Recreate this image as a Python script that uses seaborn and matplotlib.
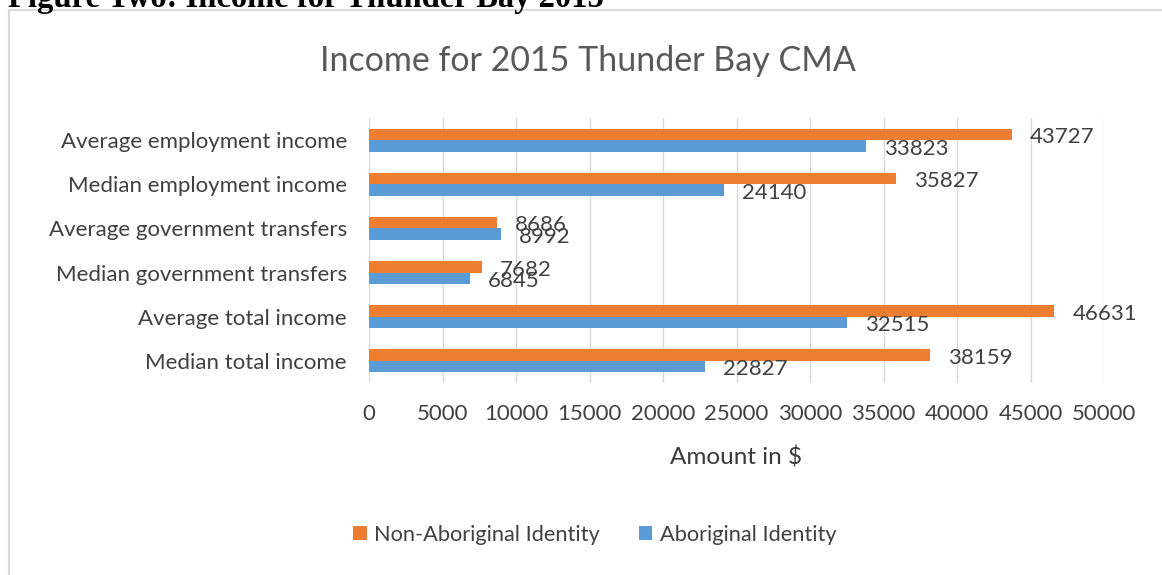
import matplotlib
matplotlib.use("Agg")
import matplotlib.pyplot as plt
import seaborn as sns
import pandas as pd
from matplotlib.patches import Patch

categories = [
    "Average employment income",
    "Median employment income",
    "Average government transfers",
    "Median government transfers",
    "Average total income",
    "Median total income",
]
series_names = ["Non-Aboriginal Identity", "Aboriginal Identity"]
non_aboriginal = [43727, 35827, 8686, 7682, 46631, 38159]
aboriginal = [33823, 24140, 8992, 6845, 32515, 22827]
x_ticks = [0, 5000, 10000, 15000, 20000, 25000, 30000, 35000, 40000, 45000, 50000]
colors = ["#ED7D31", "#5B9BD5"]

df = pd.DataFrame({
    "category": categories * 2,
    "series": [series_names[0]] * len(categories) + [series_names[1]] * len(categories),
    "value": non_aboriginal + aboriginal,
})

sns.set_theme(style="white")
plt.rcParams["font.family"] = ["Lato", "DejaVu Sans"]

TXT = "#404040"
fig = plt.figure(figsize=(11.62, 5.75), dpi=100)
ax = fig.add_axes([369 / 1162, 1 - 383 / 575, (1104 - 369) / 1162, 265 / 575])

sns.barplot(data=df, y="category", x="value", hue="series", order=categories,
            hue_order=series_names, palette=colors, width=0.52, orient="h",
            ax=ax, saturation=1, legend=False, edgecolor="none")

ax.set_xlim(0, 50000)
ax.set_xticks(x_ticks)
ax.set_xticklabels([str(t) for t in x_ticks], fontsize=16, color=TXT)
ax.tick_params(axis="x", length=0, pad=15)
ax.tick_params(axis="y", length=0, pad=16)
for lbl in ax.get_yticklabels():
    lbl.set_fontsize(16)
    lbl.set_color(TXT)
ax.set_ylabel("")
ax.set_xlabel("Amount in $", fontsize=17.5, color="#3a3a3a", labelpad=16)
ax.grid(axis="x", color="#D9D9D9", linewidth=1)
ax.set_axisbelow(True)
for s in ax.spines.values():
    s.set_visible(False)

for cont in ax.containers:
    texts = ax.bar_label(cont, labels=[str(int(v)) for v in cont.datavalues],
                         padding=13, fontsize=16, color=TXT)
    for t in texts:
        t.xyann = (13, -2)

fig.text(588 / 1162, 1 - 61 / 575, "Income for 2015 Thunder Bay CMA", ha="center",
         va="center", fontsize=24.5, color="#595959")

handles = [Patch(facecolor=c, edgecolor="none") for c in colors]
fig.legend(handles, series_names, loc="center", bbox_to_anchor=(595 / 1162, 1 - 535 / 575),
           ncol=2, frameon=False, fontsize=15.7, labelcolor=TXT, handlelength=0.6,
           handleheight=0.6, handletextpad=0.35, columnspacing=1.8)

# outer chart border (top & left)
fig.add_artist(plt.Line2D([9 / 1162, 1], [1 - 10 / 575, 1 - 10 / 575], color="#D9D9D9", lw=1.5,
                          transform=fig.transFigure))
fig.add_artist(plt.Line2D([9 / 1162, 9 / 1162], [0, 1 - 10 / 575], color="#D9D9D9", lw=1.5,
                          transform=fig.transFigure))

# cut-off document caption above chart
fig.text(8 / 1162, 1 - 7 / 575, "Figure Two: Income for Thunder Bay 2015", ha="left",
         va="baseline", fontsize=23.5, fontweight="bold", family="Liberation Serif", color="black")

fig.savefig("out.png", dpi=100, facecolor="white")
